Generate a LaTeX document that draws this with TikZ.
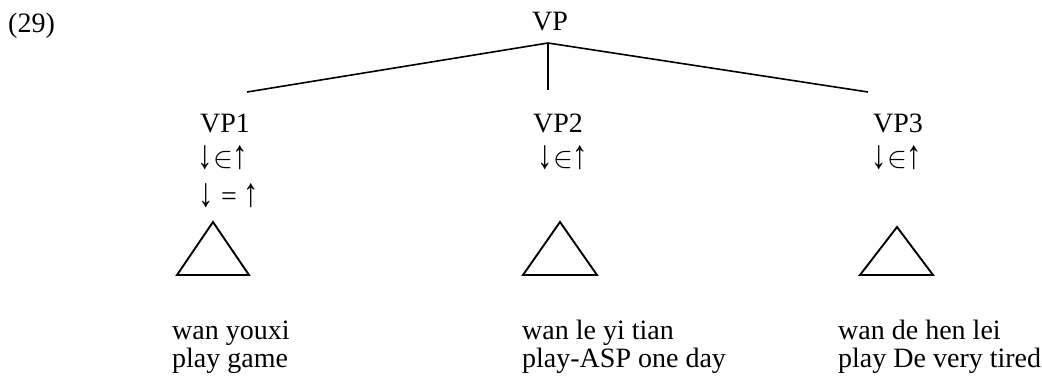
\documentclass[tikz,border=0pt]{standalone}
\usepackage{fontspec}
\usepackage{graphicx}
\setmainfont{Liberation Serif}
\newfontfamily\arrfont{Liberation Sans}
\newcommand{\tallarr}[1]{\raisebox{-1pt}{\scalebox{1.1}[1.45]{\arrfont #1}}}
\newcommand{\bigelem}{\scalebox{1.2}{$\in$}}
\newcommand{\dnelemup}{\tallarr{↓}\bigelem\tallarr{↑}}
\newcommand{\dnequp}{\tallarr{↓} = \tallarr{↑}}
\begin{document}
\begin{tikzpicture}[x=1pt,y=-1pt,
  lbl/.style={inner sep=0pt,anchor=base,font=\fontsize{28}{32}\selectfont},
  lft/.style={inner sep=0pt,anchor=base west,font=\fontsize{28}{32}\selectfont,align=left},
  edge/.style={line width=1.6pt},
  tri/.style={line width=1.9pt,line join=miter}]
\useasboundingbox (0,0) rectangle (1042,384);
\node[lft] (ex) at (8,32) {(29)};
\node[lbl] (vp) at (550,30) {VP};
\coordinate (top) at (548,43);
\coordinate (e1) at (247,92);
\coordinate (e2) at (548,90);
\coordinate (e3) at (868,92);
\draw[edge] (e1) -- (top) -- (e3);
\draw[edge] (top) -- (e2);
\node[lbl] (vp1) at (225,132) {VP1};
\node[lbl] (a1) at (223,167) {\dnelemup};
\node[lbl] (b1) at (229,205) {\dnequp};
\node[lbl] (vp2) at (558,132) {VP2};
\node[lbl] (a2) at (563,167) {\dnelemup};
\node[lbl] (vp3) at (898,132) {VP3};
\node[lbl] (a3) at (897,167) {\dnelemup};
\draw[tri] (213,222) -- (249,275) -- (177,275) -- cycle;
\draw[tri] (560,222) -- (597,275) -- (523,275) -- cycle;
\draw[tri] (897,227) -- (933,275) -- (860,275) -- cycle;
\node[lft] (t1) at (172,339) {wan youxi};
\node[lft] (g1) at (172,367) {play game};
\node[lft] (t2) at (522,339) {wan le yi tian};
\node[lft] (g2) at (522,367) {play-ASP one day};
\node[lft] (t3) at (838,339) {wan de hen lei};
\node[lft] (g3) at (838,367) {play De very tired};
\end{tikzpicture}
\end{document}
